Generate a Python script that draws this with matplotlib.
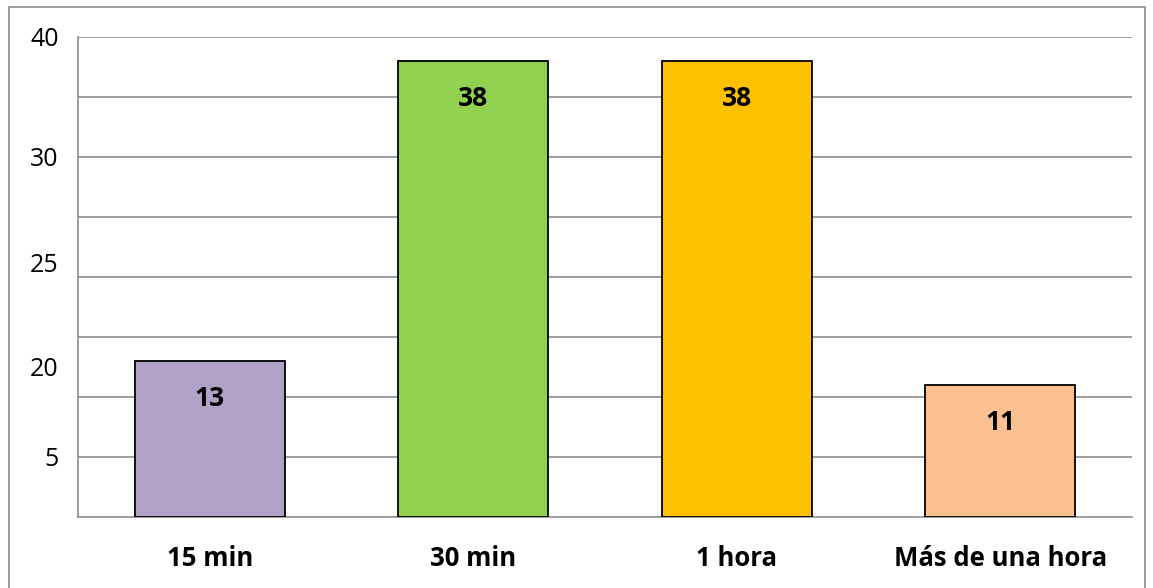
import matplotlib.pyplot as plt
from matplotlib.patches import Rectangle

# datos de la grafica
categorias = ['15 min', '30 min', '1 hora', 'Más de una hora']
valores = [13, 38, 38, 11]
colores = ['#B2A1C7', '#92D050', '#FFC000', '#FAC090']

# etiquetas del eje y tal como aparecen en la imagen original
ytick_pos = [40, 30, 21.2, 12.5, 5]
ytick_labels = ['40', '30', '25', '20', '5']

fig = plt.figure(figsize=(11.53, 5.88), dpi=100)
ax = fig.add_axes([78/1153, 1 - 517/588, (1132 - 78)/1153, (517 - 37)/588])

x = range(len(categorias))
barras = ax.bar(x, valores, width=0.57, color=colores, edgecolor='black', linewidth=1.3, zorder=3)

for b, v in zip(barras, valores):
    ax.annotate(str(v), (b.get_x() + b.get_width()/2, v), xytext=(0, -37),
                textcoords='offset pixels', ha='center', va='center',
                fontsize=19, fontweight='bold', family='Open Sans', zorder=4)

ax.set_xlim(-0.5, 3.5)
ax.set_ylim(0, 40)

# lineas de cuadricula cada 5
for g in range(5, 45, 5):
    ax.axhline(g, color='#8C8C8C', linewidth=1.2, zorder=1)

ax.set_yticks(ytick_pos)
ax.set_yticklabels(ytick_labels, fontsize=18, family='Open Sans')
ax.tick_params(axis='y', length=0, pad=14)

ax.set_xticks(list(x))
ax.set_xticklabels(categorias, fontsize=18.5, fontweight='bold', family='Open Sans')
ax.tick_params(axis='x', length=0, pad=20)

for s in ['top', 'right']:
    ax.spines[s].set_visible(False)
ax.spines['left'].set_color('#8C8C8C')
ax.spines['bottom'].set_color('#8C8C8C')
ax.spines['left'].set_linewidth(1.2)
ax.spines['bottom'].set_linewidth(1.2)

# marco exterior
fig.patches.append(Rectangle((9/1153, -0.05), (1145 - 9)/1153, 1 - 7/588 + 0.05,
                             transform=fig.transFigure, fill=False,
                             edgecolor='#8C8C8C', linewidth=1.2))

fig.savefig('out.png', dpi=100)
